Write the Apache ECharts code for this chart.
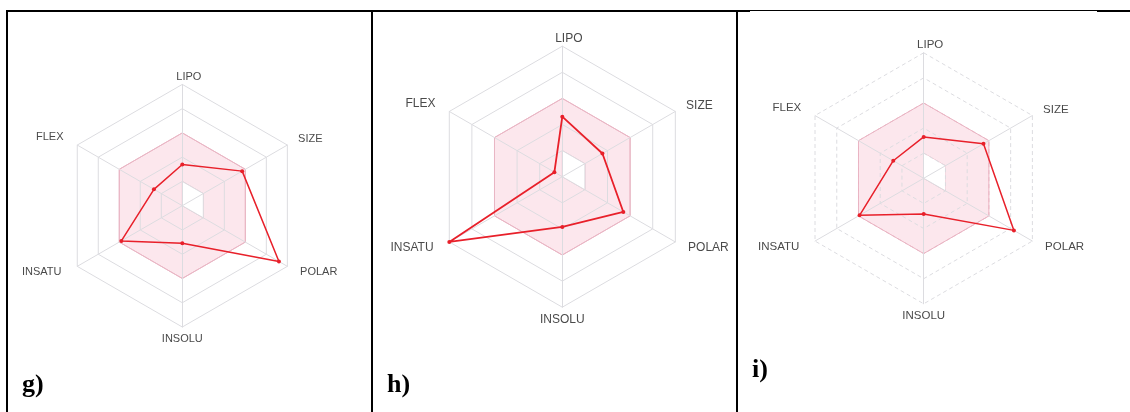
<!DOCTYPE html>
<html>
<head>
<meta charset="utf-8">
<script src="https://cdn.jsdelivr.net/npm/echarts@6/dist/echarts.min.js"></script>
<style>
  html, body { margin: 0; padding: 0; background: #fff; }
  #wrap { position: relative; width: 1130px; height: 412px; overflow: hidden; }
  #chart { position: absolute; left: 0; top: 0; width: 1130px; height: 412px; }
  .rule { position: absolute; background: #000; }
  .tag { position: absolute; font: bold 26px 'Liberation Serif', 'Times New Roman', serif; line-height: 26px; color: #000; }
</style>
</head>
<body>
<div id="wrap">
  <div id="chart"></div>
  <!-- table rules -->
  <div class="rule" style="left:6px;top:10px;width:744px;height:2px"></div>
  <div class="rule" style="left:750px;top:10px;width:347px;height:1px"></div>
  <div class="rule" style="left:1097px;top:10px;width:33px;height:2px"></div>
  <div class="rule" style="left:6px;top:10px;width:2px;height:402px"></div>
  <div class="rule" style="left:371px;top:10px;width:2px;height:402px"></div>
  <div class="rule" style="left:736px;top:10px;width:2px;height:402px"></div>
  <div class="tag" id="tag0" style="left:22px;top:371px"></div>
  <div class="tag" id="tag1" style="left:387px;top:371px"></div>
  <div class="tag" id="tag2" style="left:752px;top:356px"></div>
</div>
<script>
// Axes, listed counterclockwise from the top (ECharts radar order)
const categories = ['LIPO', 'FLEX', 'INSATU', 'INSOLU', 'POLAR', 'SIZE'];

// Normalised property values of each compound (0 = centre, 1 = outer ring)
const valuesG = [0.34, 0.27, 0.58, 0.31, 0.92, 0.57];
const valuesH = [0.46, 0.07, 1.00, 0.385, 0.54, 0.355];
const valuesI = [0.33, 0.28, 0.59, 0.285, 0.83, 0.55];

// Optimal property range (pink band): upper and lower limits per axis
const rangeUpper = [0.6, 0.6, 0.6, 0.6, 0.6, 0.6];
const rangeLower = [0.2, 0, 0, 0, 0.2, 0.2];

const panelLabels = ['g)', 'h)', 'i)'];
const panelValues = [valuesG, valuesH, valuesI];

// Panel geometry and styling
const panels = [
  { center: [182.3, 205.7], radius: 121.3, font: 11,   dashed: false, width: 1.5 },
  { center: [562.3, 176.7], radius: 130.5, font: 12,   dashed: false, width: 1.8 },
  { center: [923.7, 178.3], radius: 125.5, font: 11.5, dashed: true,  width: 1.5 }
];

// Per-axis label offsets (padding: top, right, bottom, left)
const namePadding = {
  LIPO:   [0, 0, 0, 13],
  SIZE:   [0, 0, 10, 9],
  POLAR:  [10, 0, 0, 11],
  INSOLU: [4, 0, 0, 0],
  INSATU: [10, 14, 0, 0],
  FLEX:   [0, 12, 14, 0]
};

panelLabels.forEach((t, i) => { document.getElementById('tag' + i).textContent = t; });

const gridGray = '#dcdce0';
const bandEdge = '#e9b7c5';

const radars = panels.map(p => {
  const rich = {};
  categories.forEach(c => {
    rich[c] = {
      padding: namePadding[c],
      fontSize: p.font,
      fontFamily: 'Liberation Sans, Arial, sans-serif',
      color: '#4a4a4a'
    };
  });
  return {
    center: p.center,
    radius: p.radius,
    startAngle: 90,
    splitNumber: 5,
    shape: 'polygon',
    nameGap: 2,
    z: 3,
    indicator: categories.map(c => ({ name: c, min: 0, max: 1 })),
    axisName: {
      fontSize: p.font,
      fontFamily: 'Liberation Sans, Arial, sans-serif',
      color: '#4a4a4a',
      formatter: name => '{' + name + '|' + name + '}',
      rich: rich
    },
    axisLine: { lineStyle: { color: gridGray, width: 1 } },
    axisTick: { show: false },
    axisLabel: { show: false },
    splitLine: {
      lineStyle: {
        color: [gridGray, gridGray, gridGray, bandEdge, gridGray, gridGray],
        width: 1,
        type: p.dashed ? [4, 3] : 'solid'
      }
    },
    splitArea: { show: false }
  };
});

const series = [];
panels.forEach((p, k) => {
  series.push({
    type: 'radar', radarIndex: k, z: 1, silent: true, symbol: 'none',
    lineStyle: { color: bandEdge, width: 1 },
    areaStyle: { color: 'rgba(236,120,155,0.18)', opacity: 1 },
    data: [{ value: rangeUpper }]
  });
  series.push({
    type: 'radar', radarIndex: k, z: 1, silent: true, symbol: 'none',
    lineStyle: { color: bandEdge, width: 1 },
    areaStyle: { color: '#ffffff', opacity: 1 },
    data: [{ value: rangeLower }]
  });
  series.push({
    type: 'radar', radarIndex: k, z: 4, silent: true,
    symbol: 'circle', symbolSize: 4,
    itemStyle: { color: '#e8202a' },
    lineStyle: { color: '#e8202a', width: p.width },
    data: [{ value: panelValues[k] }]
  });
});

const chart = echarts.init(document.getElementById('chart'), null, { renderer: 'canvas' });
chart.setOption({
  animation: false,
  backgroundColor: 'transparent',
  radar: radars,
  series: series
});
</script>
</body>
</html>
